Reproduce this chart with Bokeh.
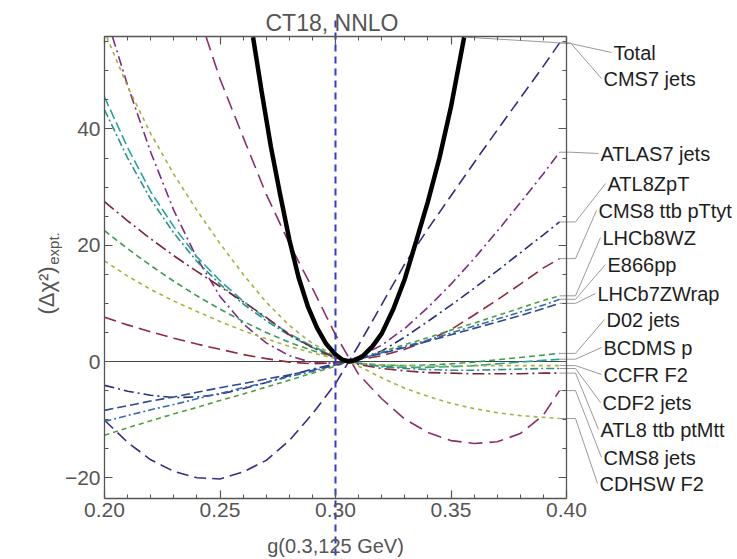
import math
from bokeh.plotting import figure
from bokeh.models import (Range1d, LinearAxis, FixedTicker, PrintfTickFormatter,
                          CustomJSTickFormatter, Label)
from bokeh.embed import file_html
from bokeh.resources import INLINE

# ---------------- data ----------------
G = [0.20, 0.21, 0.22, 0.23, 0.24, 0.25, 0.26, 0.27, 0.28, 0.29, 0.30,
     0.31, 0.32, 0.33, 0.34, 0.35, 0.36, 0.37, 0.38, 0.39, 0.397]

total_g = [0.2643, 0.268, 0.272, 0.276, 0.28, 0.284, 0.288, 0.292, 0.296, 0.30, 0.303,
           0.306, 0.309, 0.312, 0.316, 0.32, 0.325, 0.33, 0.335, 0.34, 0.345, 0.35, 0.3557]
total_chi = [55.8, 46.5, 37.0, 28.8, 21.0, 14.5, 9.5, 5.8, 3.0, 1.2, 0.3,
             0.0, 0.3, 1.0, 2.6, 4.8, 9.0, 14.2, 20.8, 27.5, 35.0, 43.8, 55.8]

cms7_chi = [-10.1, -13.9, -16.9, -18.9, -20.0, -20.2, -19.0, -17.0, -13.6, -9.0, -3.8,
            2.8, 9.8, 16.8, 22.8, 28.5, 34.2, 39.8, 45.3, 50.8, 54.8]

atlas7_g = [0.2035, 0.21, 0.22, 0.23, 0.24, 0.25, 0.26, 0.27, 0.28, 0.29, 0.30,
            0.31, 0.32, 0.33, 0.34, 0.35, 0.36, 0.37, 0.38, 0.39, 0.397]
atlas7_chi = [55.8, 47.5, 36.0, 26.0, 17.8, 11.2, 6.5, 3.2, 1.0, -0.2, -0.3,
              0.8, 2.8, 5.7, 9.3, 13.3, 17.7, 22.4, 27.3, 32.3, 36.0]

atl8zpt_chi = [-4.1, -5.1, -5.8, -6.2, -6.1, -5.6, -4.7, -3.6, -2.4, -1.3, -0.4,
               0.4, 1.8, 4.2, 6.9, 9.7, 12.6, 15.6, 18.7, 21.8, 24.0]

cms8ttb_chi = [7.6, 6.3, 5.1, 4.0, 3.0, 2.1, 1.2, 0.5, -0.1, -0.4, -0.2,
               0.3, 1.0, 2.1, 3.6, 5.5, 8.0, 10.6, 13.3, 16.1, 17.7]

lhcb8wz_chi = [-12.7, -11.4, -10.2, -9.0, -7.9, -6.7, -5.6, -4.4, -3.2, -2.0, -0.8,
               0.5, 1.7, 2.9, 4.1, 5.4, 6.6, 7.9, 9.2, 10.5, 11.3]

e866_chi = [-10.3, -9.3, -8.3, -7.4, -6.4, -5.5, -4.5, -3.6, -2.6, -1.7, -0.6,
            0.4, 1.5, 2.6, 3.7, 4.9, 6.1, 7.3, 8.5, 9.7, 10.7]

lhcb7_chi = [-8.4, -7.6, -6.8, -6.1, -5.3, -4.5, -3.8, -3.0, -2.3, -1.5, -0.6,
             0.4, 1.4, 2.4, 3.5, 4.6, 5.7, 6.8, 7.9, 9.1, 10.0]

d02_chi = [22.5, 19.4, 16.5, 13.8, 11.3, 9.0, 6.9, 5.0, 3.3, 1.9, 0.6,
           -0.3, -0.6, -0.7, -0.6, -0.4, -0.1, 0.3, 0.7, 1.1, 1.4]

bcdms_chi = [45.5, 36.8, 29.2, 23.2, 18.0, 13.9, 10.4, 7.4, 4.8, 2.6, 0.9,
             -0.3, -0.8, -1.0, -1.0, -0.9, -0.7, -0.4, -0.1, 0.2, 0.4]

ccfr_chi = [17.3, 14.7, 12.4, 10.4, 8.6, 6.9, 5.3, 3.9, 2.6, 1.5, 0.5,
            -0.3, -0.6, -0.7, -0.8, -0.8, -0.7, -0.7, -0.7, -0.7, -0.7]

cdf2_chi = [43.3, 35.0, 27.9, 22.1, 17.2, 13.3, 9.9, 7.0, 4.5, 2.4, 0.8,
            -0.3, -0.9, -1.2, -1.4, -1.5, -1.5, -1.4, -1.3, -1.2, -1.2]

atl8ttb_chi = [27.5, 24.2, 21.1, 18.2, 15.5, 12.9, 10.3, 7.6, 4.6, 2.4, 0.6,
               -0.5, -1.2, -1.6, -1.9, -2.0, -2.1, -2.1, -2.1, -2.0, -2.0]

cms8jets_g = [0.244, 0.25, 0.26, 0.27, 0.28, 0.29, 0.30, 0.31, 0.32, 0.33, 0.34,
              0.35, 0.36, 0.37, 0.38, 0.39, 0.397]
cms8jets_chi = [55.8, 48.6, 38.6, 28.8, 20.3, 12.6, 4.6, -2.2, -6.4, -9.9, -12.2,
                -13.6, -14.1, -13.8, -12.4, -9.2, -5.0]

cdhsw_g = [0.201, 0.21, 0.22, 0.23, 0.24, 0.25, 0.26, 0.27, 0.28, 0.29, 0.30,
           0.31, 0.32, 0.33, 0.34, 0.35, 0.36, 0.37, 0.38, 0.39, 0.397]
cdhsw_chi = [55.8, 47.3, 39.2, 32.2, 26.0, 20.3, 15.0, 10.2, 6.2, 3.1, 1.0,
             -0.8, -2.8, -4.6, -6.0, -7.2, -8.1, -8.8, -9.3, -9.6, -9.8]

names = ["Total", "CMS7 jets", "ATLAS7 jets", "ATL8ZpT", "CMS8 ttb pTtyt", "LHCb8WZ",
         "E866pp", "LHCb7ZWrap", "D02 jets", "BCDMS p", "CCFR F2", "CDF2 jets",
         "ATL8 ttb ptMtt", "CMS8 jets", "CDHSW F2"]

x_ticks = [0.20, 0.25, 0.30, 0.35, 0.40]
y_ticks = [-20, 0, 20, 40]
G_REF = 0.30

# ---------------- layout constants (pixels) ----------------
W, H = 737, 559
PX_L, PX_R, PY_T, PY_B = 104, 566, 36, 498
XMIN, XMAX, YMIN, YMAX = 0.20, 0.40, -23.56, 55.9
SX = (PX_R - PX_L) / (XMAX - XMIN)
SY = (PY_B - PY_T) / (YMAX - YMIN)


def dx(px):
    return XMIN + (px - PX_L) / SX


def dy(py):
    return YMAX - (py - PY_T) / SY


FRAME = "#555555"
FONT = "Liberation Sans"

p = figure(width=W, height=H, x_range=Range1d(dx(0), dx(W)), y_range=Range1d(dy(H), dy(0)),
           output_backend="svg", toolbar_location=None, x_axis_location=None,
           y_axis_location=None, min_border=0, outline_line_color=None, title=None)
p.background_fill_color = "white"
p.border_fill_color = "white"
p.grid.visible = False

xt = FixedTicker(ticks=x_ticks, minor_ticks=[round(0.20 + 0.01 * i, 2) for i in range(21)])
yt = FixedTicker(ticks=y_ticks, minor_ticks=list(range(-20, 56, 5)))
blank = CustomJSTickFormatter(code="return ''")

common = dict(axis_line_color=FRAME, axis_line_width=1.3, major_tick_in=8, major_tick_out=0,
              minor_tick_in=4, minor_tick_out=0, major_tick_line_color=FRAME,
              minor_tick_line_color=FRAME, major_tick_line_width=1.2, minor_tick_line_width=1,
              major_label_text_font=FONT, major_label_text_font_size="21px",
              major_label_text_color="#555555")

bottom = LinearAxis(ticker=xt, formatter=PrintfTickFormatter(format="%.2f"),
                    fixed_location=YMIN, bounds=(XMIN, XMAX), major_label_standoff=4, **common)
top = LinearAxis(ticker=xt, formatter=blank, fixed_location=YMAX, bounds=(XMIN, XMAX), **common)
left = LinearAxis(ticker=yt, fixed_location=XMIN, bounds=(YMIN, YMAX), major_label_standoff=4,
                  major_label_overrides={-20: "\u221220"}, **common)
right = LinearAxis(ticker=yt, formatter=blank, fixed_location=XMAX, bounds=(YMIN, YMAX), **common)
p.add_layout(bottom, "below")
p.add_layout(top, "above")
p.add_layout(left, "left")
p.add_layout(right, "right")

# zero line
p.line([XMIN, XMAX], [0, 0], line_color="#444444", line_width=1.2)

series = [
    ("CMS7 jets", G, cms7_chi, "#3A2A86", "12 6"),
    ("ATLAS7 jets", atlas7_g, atlas7_chi, "#7D2C80", "10 4 2 4"),
    ("ATL8ZpT", G, atl8zpt_chi, "#2A2F7A", "10 4 2 4"),
    ("CMS8 ttb pTtyt", G, cms8ttb_chi, "#8E2A3C", "12 6"),
    ("LHCb8WZ", G, lhcb8wz_chi, "#4E9E3A", "5 4"),
    ("E866pp", G, e866_chi, "#2F6DB0", "7 3 2 3"),
    ("LHCb7ZWrap", G, lhcb7_chi, "#2B4A92", "9 4"),
    ("D02 jets", G, d02_chi, "#3C9A5A", "6 4"),
    ("BCDMS p", G, bcdms_chi, "#27A69C", "10 4"),
    ("CCFR F2", G, ccfr_chi, "#A6B43A", "4 4"),
    ("CDF2 jets", G, cdf2_chi, "#2E9088", "8 3 2 3"),
    ("ATL8 ttb ptMtt", G, atl8ttb_chi, "#7E2438", "12 4 2 4"),
    ("CMS8 jets", cms8jets_g, cms8jets_chi, "#8A2F6E", "14 7"),
    ("CDHSW F2", cdhsw_g, cdhsw_chi, "#A8B040", "4 4"),
]
ends = {"Total": (total_g[-1], total_chi[-1])}
for nm, xs, ys, col, dash in series:
    p.line(xs, ys, line_color=col, line_dash=dash, line_width=1.6)
    ends[nm] = (xs[-1], ys[-1])
p.line(total_g, total_chi, line_color="black", line_width=4.5)

# reference line g = 0.30
p.segment(x0=[G_REF], y0=[dy(20)], x1=[G_REF], y1=[dy(H)], line_color="#2F3BC4",
          line_width=2, line_dash="7 5")

# callout labels with leader lines
label_px = [613, 603, 600, 607, 598, 602, 607, 597, 606, 603, 603, 602, 600, 603, 599]
label_py = [52, 78, 153, 183, 210, 237, 264, 293, 319, 347, 374, 402, 429, 457, 483]
kink_px = [570, 570, 570, 575, 575, 575, 575, 575, 575, 575, 575, 575, 575, 575, 575]
lx, ly = [], []
for nm, px, py, kx in zip(names, label_px, label_py, kink_px):
    x0, y0 = ends[nm]
    yk = dy(43) if nm == "Total" else y0
    lx.append([x0, dx(kx), dx(px - 2)])
    ly.append([y0, yk, dy(py)])
    p.add_layout(Label(x=dx(px), y=dy(py), text=nm, text_align="left", text_baseline="middle",
                       text_font=FONT, text_font_size="20px", text_color="#1e1e1e"))
p.multi_line(lx, ly, line_color="#9a9a9a", line_width=1)

# title and axis labels
p.add_layout(Label(x=dx(265), y=dy(22), text="CT18, NNLO", text_align="left",
                   text_baseline="middle", text_font=FONT, text_font_size="23px",
                   text_color="#555555"))
p.add_layout(Label(x=dx(335), y=dy(545), text="g(0.3,125 GeV)", text_align="center",
                   text_baseline="middle", text_font=FONT, text_font_size="20px",
                   text_color="#555555"))
p.add_layout(Label(x=dx(46), y=dy(290), text="(\u0394\u03c7\u00b2)", angle=math.pi / 2,
                   text_align="center", text_baseline="middle", text_font=FONT,
                   text_font_size="22px", text_color="#555555"))
p.add_layout(Label(x=dx(53), y=dy(248), text="expt.", angle=math.pi / 2,
                   text_align="center", text_baseline="middle", text_font=FONT,
                   text_font_size="15px", text_color="#555555"))

open("out.html", "w").write(file_html(p, INLINE))
